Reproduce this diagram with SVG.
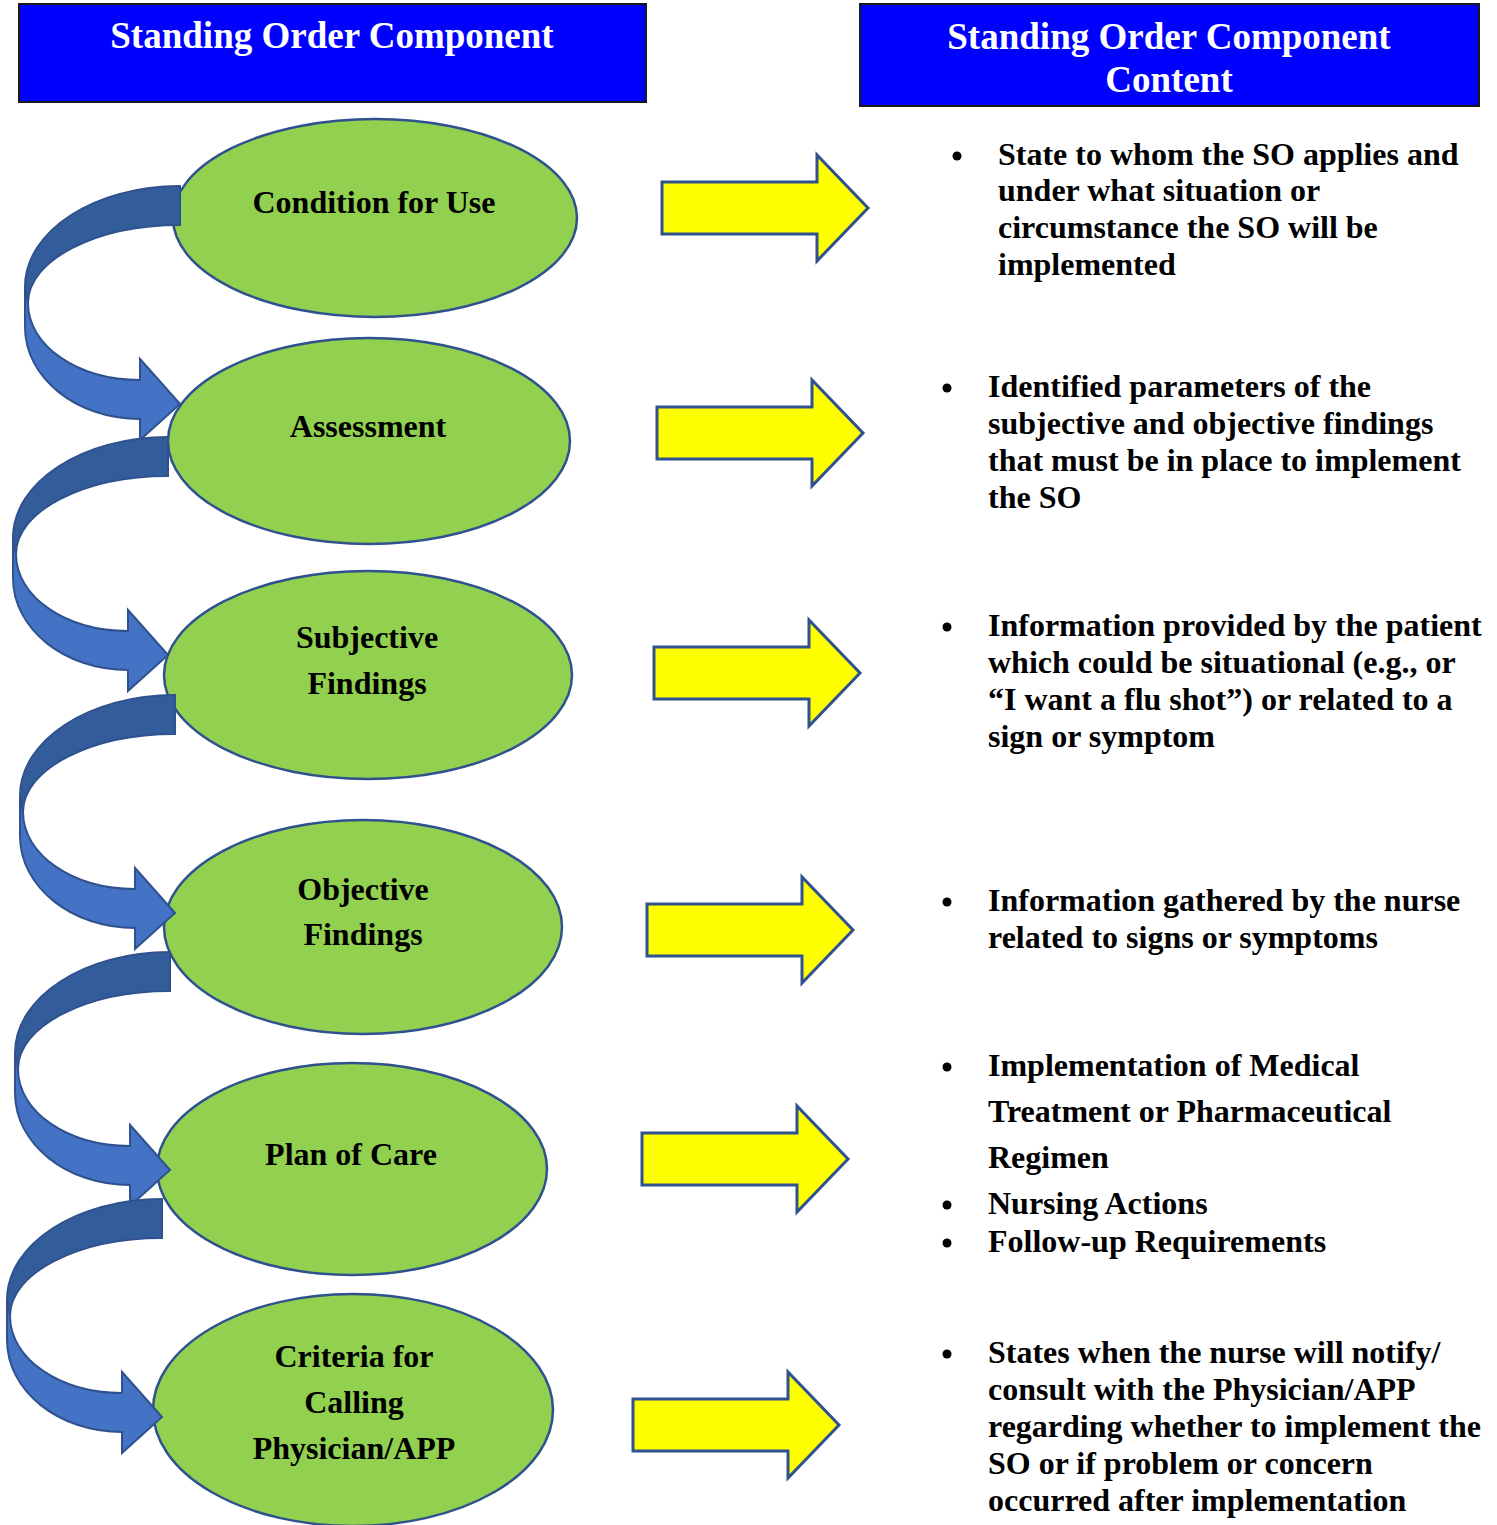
<svg xmlns="http://www.w3.org/2000/svg" xmlns:xlink="http://www.w3.org/1999/xlink" width="1497" height="1525" viewBox="0 0 1497 1525">
<style>
.hdr{fill:#0000FF;stroke:#1a1a1a;stroke-width:2}
.htxt{font-family:"Liberation Serif","Times New Roman",serif;font-weight:bold;font-size:37px;fill:#FFFFFF;text-anchor:middle}
.node{fill:#92D050;stroke:#2F528F;stroke-width:2.5}
.ntxt{font-family:"Liberation Serif","Times New Roman",serif;font-weight:bold;font-size:32px;fill:#000;text-anchor:middle}
.btxt{font-family:"Liberation Serif","Times New Roman",serif;font-weight:bold;font-size:32px;fill:#000}
.yarr{fill:#FFFF00;stroke:#2F528F;stroke-width:3;stroke-linejoin:miter}
.cdark{fill:#335C9A;stroke:#2F528F;stroke-width:2}
.clight{fill:#4472C4;stroke:#2F528F;stroke-width:2}
</style>
<defs>
<polygon id="ya" points="0,-26 155,-26 155,-53 206,0 155,53 155,26 0,26"/>
<g id="ca">
<path class="cdark" d="M0,0 C-85.6,0 -155,45 -155,101 L-155,110 L-152,117 C-152,74 -84,39 0,39 Z"/>
<path class="clight" d="M-155,101 L-155,141 C-155,192 -103.5,233 -40,233 L-40,254 L0,218 L-40,173 L-40,194 C-102,194 -152,160 -152,117 Z"/>
</g>
</defs>

<g id="header-left">
<rect class="hdr" x="19" y="4" width="627" height="98"/>
<text class="htxt" x="332" y="48">Standing Order Component</text>
</g>
<g id="header-right">
<rect class="hdr" x="860" y="4" width="619" height="102"/>
<text class="htxt" x="1169" y="49">Standing Order Component</text>
<text class="htxt" x="1169" y="92">Content</text>
</g>

<g id="node-condition">
<ellipse class="node" cx="375" cy="218" rx="202" ry="99"/>
<text class="ntxt" x="374" y="213">Condition for Use</text>
</g>
<g id="node-assessment">
<ellipse class="node" cx="369" cy="441" rx="201" ry="103"/>
<text class="ntxt" x="368" y="437">Assessment</text>
</g>
<g id="node-subjective">
<ellipse class="node" cx="368" cy="675" rx="204" ry="104"/>
<text class="ntxt" x="367" y="648">Subjective</text>
<text class="ntxt" x="367" y="694">Findings</text>
</g>
<g id="node-objective">
<ellipse class="node" cx="363" cy="927" rx="199" ry="107"/>
<text class="ntxt" x="363" y="900">Objective</text>
<text class="ntxt" x="363" y="945">Findings</text>
</g>
<g id="node-plan">
<ellipse class="node" cx="352" cy="1169" rx="195" ry="106"/>
<text class="ntxt" x="351" y="1165">Plan of Care</text>
</g>
<g id="node-criteria">
<ellipse class="node" cx="353" cy="1410" rx="200" ry="116"/>
<text class="ntxt" x="354" y="1367">Criteria for</text>
<text class="ntxt" x="354" y="1413">Calling</text>
<text class="ntxt" x="354" y="1459">Physician/APP</text>
</g>

<g id="connectors">
<use xlink:href="#ca" href="#ca" transform="translate(180,186)"/>
<use xlink:href="#ca" href="#ca" transform="translate(168,437)"/>
<use xlink:href="#ca" href="#ca" transform="translate(175,695)"/>
<use xlink:href="#ca" href="#ca" transform="translate(170,952)"/>
<use xlink:href="#ca" href="#ca" transform="translate(162,1199)"/>
<use class="yarr" xlink:href="#ya" href="#ya" transform="translate(662,208)"/>
<use class="yarr" xlink:href="#ya" href="#ya" transform="translate(657,433)"/>
<use class="yarr" xlink:href="#ya" href="#ya" transform="translate(654,673)"/>
<use class="yarr" xlink:href="#ya" href="#ya" transform="translate(647,930)"/>
<use class="yarr" xlink:href="#ya" href="#ya" transform="translate(642,1159)"/>
<use class="yarr" xlink:href="#ya" href="#ya" transform="translate(633,1425)"/>
</g>

<g id="content-1">
<circle cx="957" cy="156" r="4.5"/>
<text class="btxt" x="998" y="165">State to whom the SO applies and</text>
<text class="btxt" x="998" y="201">under what situation or</text>
<text class="btxt" x="998" y="238">circumstance the SO will be</text>
<text class="btxt" x="998" y="275">implemented</text>
</g>
<g id="content-2">
<circle cx="947" cy="388" r="4.5"/>
<text class="btxt" x="988" y="397">Identified parameters of the</text>
<text class="btxt" x="988" y="434">subjective and objective findings</text>
<text class="btxt" x="988" y="471">that must be in place to implement</text>
<text class="btxt" x="988" y="508">the SO</text>
</g>
<g id="content-3">
<circle cx="947" cy="627" r="4.5"/>
<text class="btxt" x="988" y="636">Information provided by the patient</text>
<text class="btxt" x="988" y="673">which could be situational (e.g., or</text>
<text class="btxt" x="988" y="710">“I want a flu shot”) or related to a</text>
<text class="btxt" x="988" y="747">sign or symptom</text>
</g>
<g id="content-4">
<circle cx="947" cy="902" r="4.5"/>
<text class="btxt" x="988" y="911">Information gathered by the nurse</text>
<text class="btxt" x="988" y="948">related to signs or symptoms</text>
</g>
<g id="content-5">
<circle cx="947" cy="1067" r="4.5"/>
<text class="btxt" x="988" y="1076">Implementation of Medical</text>
<text class="btxt" x="988" y="1122">Treatment or Pharmaceutical</text>
<text class="btxt" x="988" y="1168">Regimen</text>
<circle cx="947" cy="1205" r="4.5"/>
<text class="btxt" x="988" y="1214">Nursing Actions</text>
<circle cx="947" cy="1243" r="4.5"/>
<text class="btxt" x="988" y="1252">Follow-up Requirements</text>
</g>
<g id="content-6">
<circle cx="947" cy="1354" r="4.5"/>
<text class="btxt" x="988" y="1363">States when the nurse will notify/</text>
<text class="btxt" x="988" y="1400">consult with the Physician/APP</text>
<text class="btxt" x="988" y="1437">regarding whether to implement the</text>
<text class="btxt" x="988" y="1474">SO or if problem or concern</text>
<text class="btxt" x="988" y="1511">occurred after implementation</text>
</g>
</svg>
